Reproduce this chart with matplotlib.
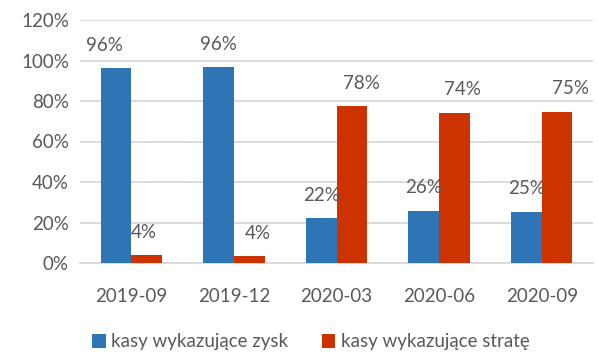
import matplotlib
matplotlib.use("Agg")
import matplotlib.pyplot as plt
import numpy as np

# quarterly share of cash registers with profit vs loss (%)
periods = ["2019-09", "2019-12", "2020-03", "2020-06", "2020-09"]
profit = [96.1, 96.6, 22.2, 25.7, 25.3]
loss = [3.8, 3.3, 77.5, 74.1, 74.6]
profit_labels = ["96%", "96%", "22%", "26%", "25%"]
loss_labels = ["4%", "4%", "78%", "74%", "75%"]
series_names = ["kasy wykazujące zysk", "kasy wykazujące stratę"]

BLUE = "#2E75B6"
RED = "#CC3300"
TEXT = "#595959"
GRID = "#D9D9D9"
FS = 13.5

# hand-nudged label positions (pixels)
profit_dx = [-11, 0, 0, 0, 0]
loss_dx = [-3, 8, 10, 8, 13]
label_dy = 23

plt.rcParams["font.family"] = ["Lato", "DejaVu Sans"]

fig = plt.figure(figsize=(5.98, 3.52), dpi=100)
ax = fig.add_axes([80 / 598, 1 - 263 / 352, 513 / 598, 243 / 352])

x = np.arange(len(periods))
w = 0.3
b1 = ax.bar(x - w / 2, np.array(profit) / 100, w, color=BLUE, label=series_names[0], zorder=3)
b2 = ax.bar(x + w / 2, np.array(loss) / 100, w, color=RED, label=series_names[1], zorder=3)

for i in range(len(periods)):
    ax.annotate(profit_labels[i], (x[i] - w / 2, profit[i] / 100),
                xytext=(profit_dx[i], label_dy), textcoords="offset pixels",
                ha="center", va="center", fontsize=FS, color=TEXT)
    ax.annotate(loss_labels[i], (x[i] + w / 2, loss[i] / 100),
                xytext=(loss_dx[i], label_dy), textcoords="offset pixels",
                ha="center", va="center", fontsize=FS, color=TEXT)

ax.set_xlim(-0.5, len(periods) - 0.5)
ax.set_ylim(0, 1.2)
ax.set_yticks(np.arange(0, 1.21, 0.2))
ax.set_yticklabels([f"{int(round(v * 100))}%" for v in np.arange(0, 1.21, 0.2)])
ax.set_xticks(x)
ax.set_xticklabels(periods)
ax.tick_params(axis="both", length=0, labelsize=FS, colors=TEXT)
ax.tick_params(axis="x", pad=18)
ax.tick_params(axis="y", pad=8)
ax.grid(axis="y", color=GRID, linewidth=1.3, zorder=0)
for side in ["top", "right", "left"]:
    ax.spines[side].set_visible(False)
ax.spines["bottom"].set_color(GRID)
ax.spines["bottom"].set_linewidth(1.3)

fig.legend(handles=[b1, b2], loc="center", bbox_to_anchor=(0.52, 1 - 342 / 352),
           ncol=2, frameon=False, fontsize=FS, labelcolor=TEXT,
           handlelength=0.7, handleheight=0.7, handletextpad=0.3, columnspacing=1.8)

fig.savefig("out.png", dpi=100)
